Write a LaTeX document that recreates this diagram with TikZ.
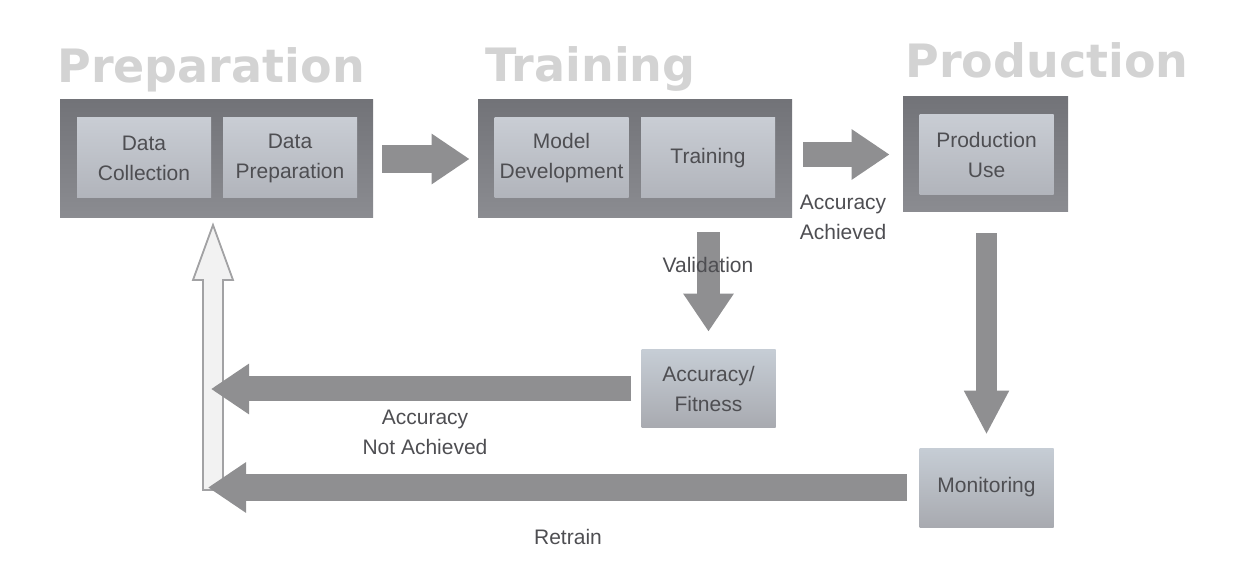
\documentclass[tikz,border=0pt]{standalone}
\usepackage{fontspec}
\setmainfont{Liberation Sans}
\newfontfamily\titlefont{DejaVu Sans}
\usepackage{tikz}
\usetikzlibrary{arrows.meta}
\definecolor{Flow_Title}{HTML}{D3D3D3}
\definecolor{Flow_Text}{HTML}{4E4E52}
\definecolor{Flow_FrameTop}{HTML}{727378}
\definecolor{Flow_FrameBot}{HTML}{8B8C91}
\definecolor{Flow_PanelTop}{HTML}{C9CDD4}
\definecolor{Flow_PanelBot}{HTML}{B1B4BB}
\definecolor{Flow_BoxTop}{HTML}{C6CDD5}
\definecolor{Flow_BoxBot}{HTML}{A8AAB0}
\definecolor{Flow_Arrow}{HTML}{8F8F91}
\definecolor{Flow_Hollow}{HTML}{F2F2F2}
\definecolor{Flow_HollowLine}{HTML}{A2A2A4}

\tikzset{
  stagetitle/.style={anchor=base west, inner sep=0pt, text=Flow_Title, font=\titlefont\bfseries\fontsize{23}{23}\selectfont},
  frame/.style={shading=axis, top color=Flow_FrameTop, bottom color=Flow_FrameBot, inner sep=0pt},
  panel/.style={shading=axis, top color=Flow_PanelTop, bottom color=Flow_PanelBot, minimum width=67pt, minimum height=40pt, inner sep=0pt, align=center, text=Flow_Text, font=\fontsize{10.5}{15}\selectfont},
  checkbox/.style={panel, top color=Flow_BoxTop, bottom color=Flow_BoxBot},
  flowtext/.style={align=center, text=Flow_Text, font=\fontsize{10.5}{15}\selectfont},
  blockarrow/.style={draw=Flow_Arrow, line width=12.5pt, -{Triangle[length=19pt, width=24pt]}},
  hollowarrow/.style={fill=Flow_Hollow, draw=Flow_HollowLine, line width=0.9pt, line join=miter}
}

\begin{document}
\begin{tikzpicture}[x=0.5pt, y=-0.5pt]
    \useasboundingbox (0,0) rectangle (1247,571);
    % Stage titles
    \node[stagetitle] (preptitle) at (57,83) {Preparation};
    \node[stagetitle] (traintitle) at (485,82) {Training};
    \node[stagetitle] (prodtitle) at (905,78) {Production};
    % Stage frames
    \node[frame, minimum width=156.5pt, minimum height=59pt] (prep) at (216.5,159) {};
    \node[frame, minimum width=157pt, minimum height=59pt] (train) at (635,159) {};
    \node[frame, minimum width=82.5pt, minimum height=57.5pt] (prod) at (985.5,154.5) {};
    % Steps
    \node[panel] (dcol) at (144,158) {Data\\Collection};
    \node[panel] (dprep) at (290,158) {Data\\Preparation};
    \node[panel] (mdev) at (561.5,158) {Model\\Development};
    \node[panel] (trn) at (708,158) {Training};
    \node[panel] (puse) at (986.5,155) {Production\\Use};
    \node[checkbox, minimum height=39pt] (acc) at (708.5,389) {Accuracy/\\Fitness};
    \node[checkbox, minimum height=39.5pt] (mon) at (986.5,487.5) {Monitoring};
    % Loop back to preparation
    \coordinate (loop) at (213,490);
    \draw[hollowarrow] (203,490) -- (203,280) -- (193,280) -- (213,225) -- (233,280) -- (223,280) -- (223,490) -- cycle;
    % Flow arrows
    \draw[blockarrow, line width=14pt, shorten <=4.5pt, shorten >=4pt] (prep.east) -- (train.west);
    \draw[blockarrow, shorten <=5.5pt, shorten >=6.5pt] (train.east |- prod.west) -- (prod.west);
    \draw[blockarrow, line width=11.5pt, shorten <=7pt, shorten >=9pt] (acc.north |- train.south) -- (acc.north);
    \draw[blockarrow, line width=10.5pt, -{Triangle[length=22pt, width=21pt]}, shorten <=10.5pt, shorten >=6.5pt] (mon.north |- prod.south) -- (mon.north);
    \draw[blockarrow, shorten <=5pt, shorten >=-1pt] (acc.west) -- (acc.west -| loop);
    \draw[blockarrow, line width=13.5pt, shorten <=6pt, shorten >=-2.5pt] (mon.west) -- (mon.west -| loop);
    % Arrow labels
    \node[flowtext] (achieved) at (843,217) {Accuracy\\Achieved};
    \node[flowtext] (validation) at (708,265) {Validation};
    \node[flowtext] (notachieved) at (425,432) {Accuracy\\Not Achieved};
    \node[flowtext] (retrain) at (568,537) {Retrain};
\end{tikzpicture}
\end{document}
